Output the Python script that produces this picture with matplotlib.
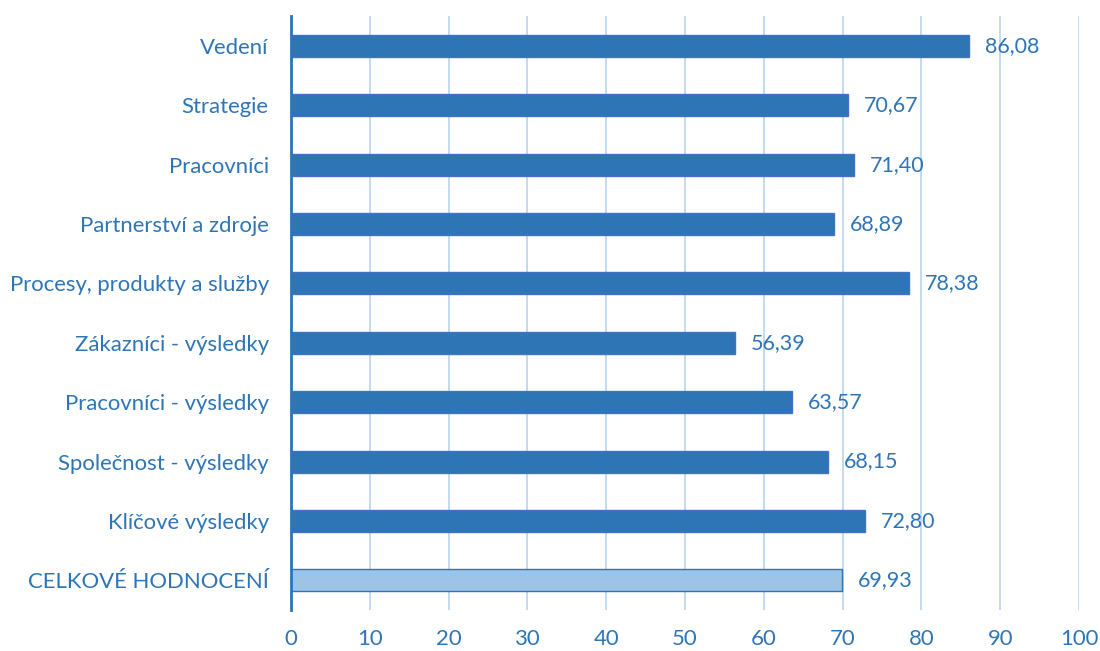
import matplotlib
matplotlib.use('Agg')
import matplotlib.pyplot as plt

### Data
categories = ['Vedení', 'Strategie', 'Pracovníci', 'Partnerství a zdroje',
              'Procesy, produkty a služby', 'Zákazníci - výsledky',
              'Pracovníci - výsledky', 'Společnost - výsledky',
              'Klíčové výsledky', 'CELKOVÉ HODNOCENÍ']
values = [86.08, 70.67, 71.40, 68.89, 78.38, 56.39, 63.57, 68.15, 72.80, 69.93]
xticks = [0, 10, 20, 30, 40, 50, 60, 70, 80, 90, 100]

txt_col = '#2E75B6'
plt.rcParams['font.family'] = ['Lato', 'DejaVu Sans']

fig = plt.figure(figsize=(11, 6.51), dpi=100)
ax = fig.add_axes([0.2645, 0.063, 0.7165, 0.912])

ypos = list(range(len(categories)))
fills = ['#2E75B6'] * (len(values) - 1) + ['#9DC3E6']
edges = ['#4472C4'] * (len(values) - 1) + ['#2E75B6']
ax.barh(ypos, values, height=0.37, color=fills, edgecolor=edges, linewidth=1.0, zorder=3)

for y, v in zip(ypos, values):
  ax.text(v + 2, y, ('%.2f' % v).replace('.', ','), va='center', ha='left',
          fontsize=15.5, color=txt_col)

ax.set_xlim(0, 100)
ax.set_ylim(len(categories) - 0.5, -0.5)
ax.set_yticks(ypos)
ax.set_yticklabels(categories)
ax.set_xticks(xticks)
ax.tick_params(axis='y', length=0, pad=16, labelsize=15.9, labelcolor=txt_col)
ax.tick_params(axis='x', length=0, pad=14, labelsize=15.9, labelcolor=txt_col)

ax.grid(axis='x', color='#BDD7EE', linewidth=1.3, zorder=0)
ax.set_axisbelow(True)
for s in ['top', 'right', 'bottom']:
  ax.spines[s].set_visible(False)
ax.spines['left'].set_color('#2E75B6')
ax.spines['left'].set_linewidth(2)
ax.spines['left'].set_zorder(4)

plt.savefig('out.png', dpi=100)
